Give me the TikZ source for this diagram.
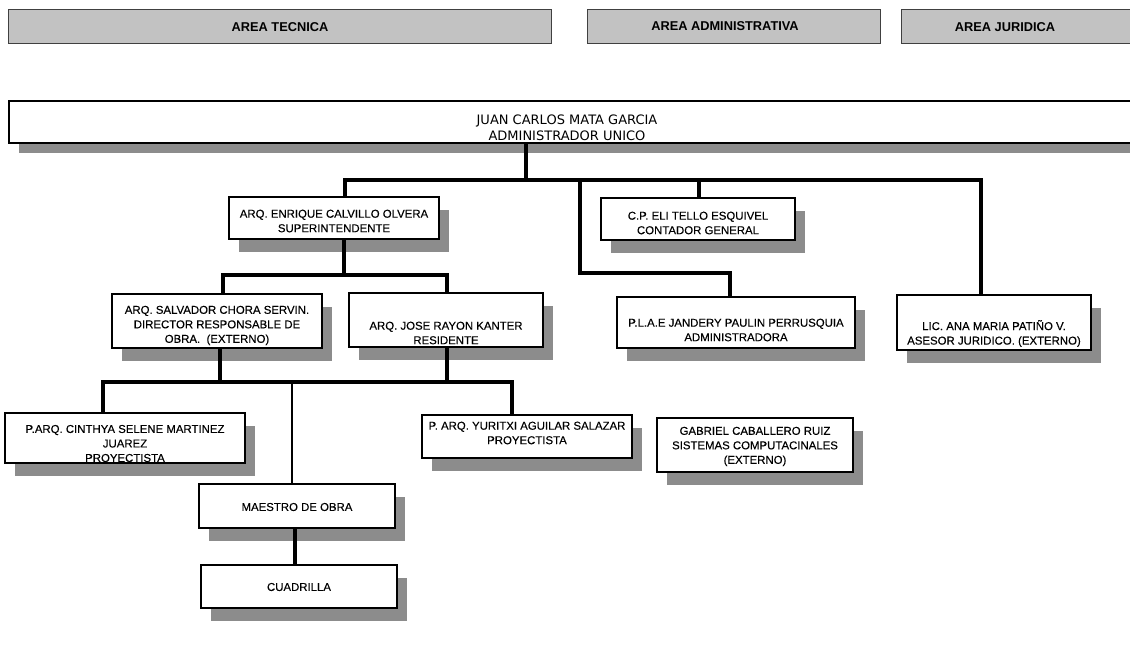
\documentclass[tikz,border=0pt]{standalone}
\usepackage{fontspec}
\setmainfont{Liberation Sans}
\newfontfamily\chieffont{DejaVu Sans}
\newfontfamily\boxfont[FakeBold=0.25]{Liberation Sans}
\usetikzlibrary{shadows}

\tikzset{
  orgbox/.style={draw=black, line width=2.6pt, fill=white, inner sep=0pt,
    drop shadow={shadow xshift=10pt, shadow yshift=-13pt, fill=black!45, opacity=1}},
  area/.style={draw=black!75, line width=1pt, fill=black!24, inner sep=0pt},
  areatext/.style={inner sep=0pt, font=\fontsize{12.8}{14}\selectfont\bfseries},
  lbl/.style={align=center, inner sep=0pt, font=\boxfont\fontsize{11.4}{14.5}\selectfont},
  link/.style={line width=3.2pt, line join=miter},
  thinlink/.style={line width=1.4pt},
}

\begin{document}
\begin{tikzpicture}[x=1pt, y=-1pt]
\useasboundingbox (0,0) rectangle (1130,664);

% area headers
\node[area, minimum width=543pt, minimum height=34pt] (hTec) at (279.5,26) {};
\node[areatext] (hTecT) at (280,27) {AREA TECNICA};
\node[area, minimum width=293pt, minimum height=34pt] (hAdm) at (733.5,26) {};
\node[areatext] (hAdmT) at (725,26) {AREA ADMINISTRATIVA};
\node[area, minimum width=240pt, minimum height=34pt] (hJur) at (1021,26) {};
\node[areatext] (hJurT) at (1005,27) {AREA JURIDICA};

% head of the company
\node[draw=black, line width=2.8pt, fill=white, inner sep=0pt,
      minimum width=1131pt, minimum height=42pt,
      drop shadow={shadow xshift=10pt, shadow yshift=-10pt, fill=black!45, opacity=1}]
      (main) at (574.5,122) {};
\node[align=center, inner sep=0pt, font=\chieffont\fontsize{13}{16}\selectfont]
      (mainT) at (567,128) {JUAN CARLOS MATA GARCIA\\ADMINISTRADOR UNICO};

% positions
\node[orgbox, minimum width=210pt, minimum height=42pt] (enr) at (334,218) {};
\node[lbl] (enrT) at (334,221) {ARQ. ENRIQUE CALVILLO OLVERA\\SUPERINTENDENTE};

\node[orgbox, minimum width=194pt, minimum height=42pt] (eli) at (698,219) {};
\node[lbl] (eliT) at (698,223) {C.P. ELI TELLO ESQUIVEL\\CONTADOR GENERAL};

\node[orgbox, minimum width=238pt, minimum height=51pt] (jan) at (736,322.5) {};
\node[lbl] (janT) at (736,330) {P.L.A.E JANDERY PAULIN PERRUSQUIA\\ADMINISTRADORA};

\node[orgbox, minimum width=194pt, minimum height=55pt] (ana) at (994,322.5) {};
\node[lbl] (anaT) at (994,333.5) {LIC. ANA MARIA PATI\~NO V.\\ASESOR JURIDICO. (EXTERNO)};

\node[orgbox, minimum width=210pt, minimum height=54pt] (sal) at (217,321) {};
\node[lbl] (salT) at (217,325.5) {ARQ. SALVADOR CHORA SERVIN.\\DIRECTOR RESPONSABLE DE\\OBRA. \ (EXTERNO)};

\node[orgbox, minimum width=194pt, minimum height=54pt] (jose) at (446,320) {};
\node[lbl] (joseT) at (446,333) {ARQ. JOSE RAYON KANTER\\RESIDENTE};

\node[orgbox, minimum width=240pt, minimum height=50pt] (cin) at (125,438) {};
\node[lbl] (cinT) at (125,443.5) {P.ARQ. CINTHYA SELENE MARTINEZ\\JUAREZ\\PROYECTISTA};

\node[orgbox, minimum width=210pt, minimum height=43pt] (yur) at (527,436.5) {};
\node[lbl] (yurT) at (527,433) {P. ARQ. YURITXI AGUILAR SALAZAR\\PROYECTISTA};

\node[orgbox, minimum width=196pt, minimum height=54pt] (gab) at (755,445) {};
\node[lbl] (gabT) at (755,446.5) {GABRIEL CABALLERO RUIZ\\SISTEMAS COMPUTACINALES\\(EXTERNO)};

\node[orgbox, minimum width=196pt, minimum height=44pt] (mae) at (297,506) {};
\node[lbl] (maeT) at (297,507) {MAESTRO DE OBRA};

\node[orgbox, minimum width=196pt, minimum height=43pt] (cua) at (299,586.5) {};
\node[lbl] (cuaT) at (299,587) {CUADRILLA};

% junction points of the connecting lines
\coordinate (j0) at (526,180);
\coordinate (jE) at (345,180);
\coordinate (jL) at (580,180);
\coordinate (jC) at (699,180);
\coordinate (jA) at (981,180);
\coordinate (jJ) at (730,273);
\coordinate (kE) at (344,275);
\coordinate (kS) at (223,275);
\coordinate (kJ) at (447,275);
\coordinate (mS) at (220,382);
\coordinate (mJ) at (447,382);
\coordinate (mC) at (103,382);
\coordinate (mM) at (292,382);
\coordinate (mY) at (512,382);
\coordinate (nM) at (295,546);

% connectors
\draw[link] (main.south -| j0) -- (j0);
\draw[link] (enr.north -| jE) -- (jE) -- (jA) -- (ana.north -| jA);
\draw[link] (jC) -- (eli.north -| jC);
\draw[link] (jL) |- (jJ) -- (jan.north -| jJ);
\draw[link] (enr.south -| kE) -- (kE);
\draw[link] (sal.north -| kS) -- (kS) -- (kJ) -- (jose.north -| kJ);
\draw[link] (sal.south -| mS) -- (mS);
\draw[link] (jose.south -| mJ) -- (mJ);
\draw[link] (cin.north -| mC) -- (mC) -- (mY) -- (yur.north -| mY);
\draw[thinlink] (mM) -- (mae.north -| mM);
\draw[link] (mae.south -| nM) -- (cua.north -| nM);
\end{tikzpicture}
\end{document}
